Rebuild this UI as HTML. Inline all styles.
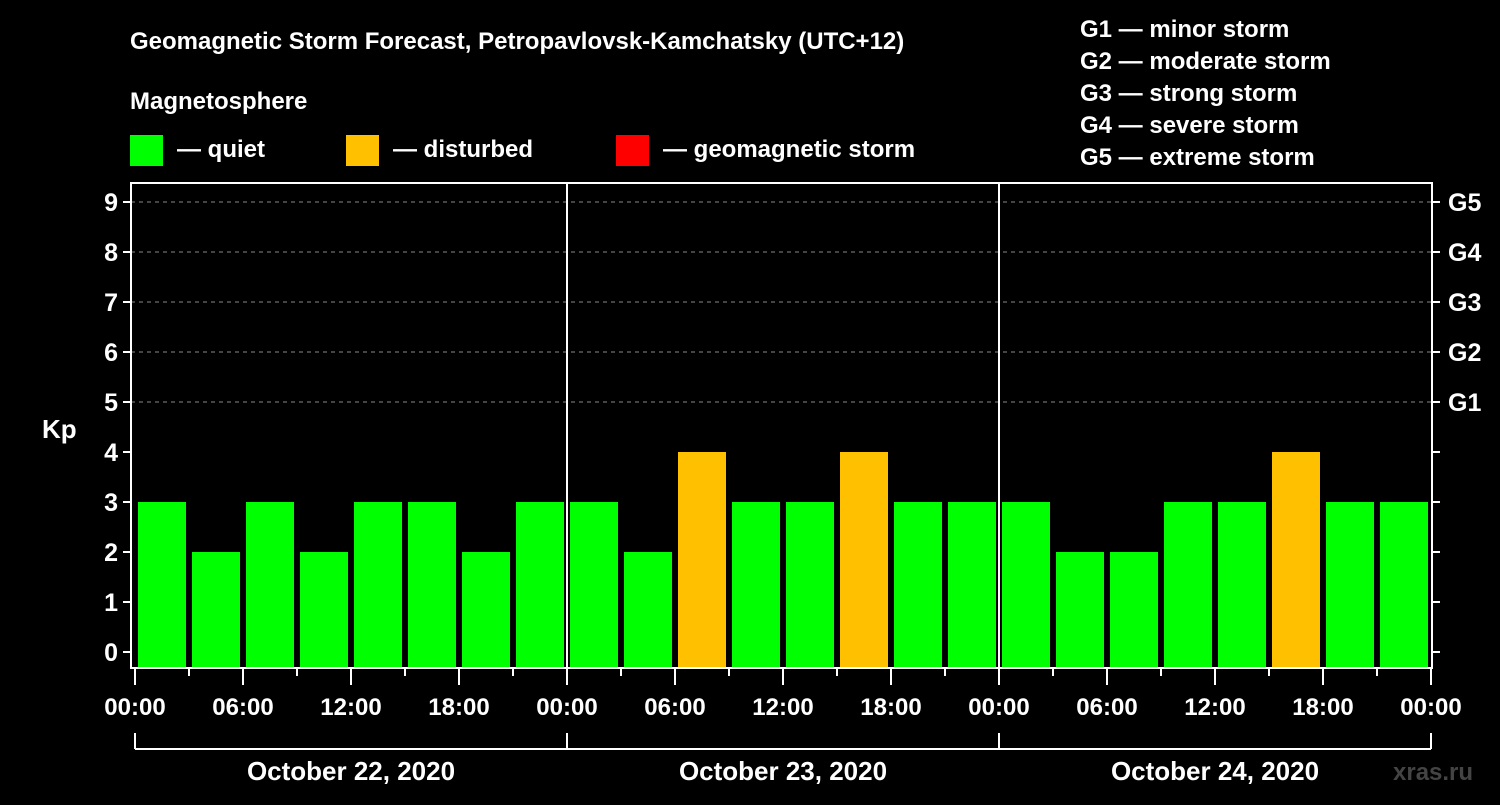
<!DOCTYPE html>
<html><head><meta charset="utf-8"><style>
body{margin:0;background:#000;width:1500px;height:800px;overflow:hidden}
svg text{font-family:"Liberation Sans",Arial,sans-serif;font-weight:bold;fill:#fff}
</style></head><body>
<svg id="c" width="1500" height="800">
<text x="130" y="49" font-size="24">Geomagnetic Storm Forecast, Petropavlovsk-Kamchatsky (UTC+12)</text>
<text x="130" y="109" font-size="24">Magnetosphere</text>
<rect x="130" y="135" width="33" height="31" fill="#00ff00"/>
<text x="177" y="157" font-size="24">— quiet</text>
<rect x="346" y="135" width="33" height="31" fill="#ffc000"/>
<text x="393" y="157" font-size="24">— disturbed</text>
<rect x="616" y="135" width="33" height="31" fill="#ff0000"/>
<text x="663" y="157" font-size="24">— geomagnetic storm</text>
<g font-size="24">
<text x="1080" y="37">G1 — minor storm</text>
<text x="1080" y="69">G2 — moderate storm</text>
<text x="1080" y="101">G3 — strong storm</text>
<text x="1080" y="133">G4 — severe storm</text>
<text x="1080" y="165">G5 — extreme storm</text>
</g>
<text x="42" y="438" font-size="26">Kp</text>
<text x="1393" y="780" font-size="24" style="fill:#444">xras.ru</text>
<g id="plot"></g>
</svg>
<script>
const days = ["October 22, 2020","October 23, 2020","October 24, 2020"];
const kpDay1 = [3,2,3,2,3,3,2,3];
const kpDay2 = [3,2,4,3,3,4,3,3];
const kpDay3 = [3,2,2,3,3,4,3,3];
const yTicks = [0,1,2,3,4,5,6,7,8,9];
const gLabels = ["G1","G2","G3","G4","G5"];
const hourLabels = ["00:00","06:00","12:00","18:00"];
const series = [kpDay1,kpDay2,kpDay3];

const NS="http://www.w3.org/2000/svg";
const g=document.getElementById('plot');
const L=131,R=1432,T=183,B=668,X0=135,DAYW=432;
const y=v=>652-v*50;
const x=h=>X0+h/24*DAYW;
function mk(tag,a){const e=document.createElementNS(NS,tag);for(const k in a)e.setAttribute(k,a[k]);g.appendChild(e);return e;}
// grid
for(const v of [5,6,7,8,9]){
  const e=mk('line',{x1:L,x2:R,y1:y(v),y2:y(v),stroke:'#888','stroke-dasharray':'4,4','stroke-width':1});
  
  
}
// bars
series.forEach((s,d)=>s.forEach((v,i)=>{
  const x1=x(d*24+i*3)+3,x2=x(d*24+(i+1)*3)-3;
  const r=mk('rect',{x:x1,y:y(v),width:x2-x1,height:B-y(v),fill:v>=5?'#ff0000':v>=4?'#ffc000':'#00ff00'});
  
  
}));
// frame
const fr=mk('rect',{x:L,y:T,width:R-L,height:B-T,fill:'none',stroke:'#fff','stroke-width':2});


for(let d=1;d<days.length;d++){
  const e=mk('line',{x1:x(d*24),x2:x(d*24),y1:T,y2:B,stroke:'#fff','stroke-width':2});
  
  
}
// y ticks
yTicks.forEach(v=>{
  mk('line',{x1:L-8,x2:L,y1:y(v),y2:y(v),stroke:'#fff','stroke-width':2});
  mk('line',{x1:R,x2:R+8,y1:y(v),y2:y(v),stroke:'#fff','stroke-width':2});
  const t=mk('text',{x:L-13,y:y(v)+9,'text-anchor':'end','font-size':25});
  t.textContent=v;
  
  
});
gLabels.forEach((s,i)=>{
  const t=mk('text',{x:1448,y:y(5+i)+9,'font-size':25});
  t.textContent=s;
  
  
});
// x ticks
for(let h=0;h<=72;h+=3){
  const major=h%6===0;
  mk('line',{x1:x(h),x2:x(h),y1:B,y2:B+(major?17:8),stroke:'#fff','stroke-width':2});
  if(major){
    const t=mk('text',{x:x(h),y:715,'text-anchor':'middle','font-size':24});
    t.textContent=hourLabels[(h/6)%4];
    
    
  }
}
// day brackets
days.forEach((s,d)=>{
  const a=x(d*24),b=x(d*24+24);
  mk('line',{x1:a,x2:a,y1:733,y2:749,stroke:'#fff','stroke-width':2});
  mk('line',{x1:b,x2:b,y1:733,y2:749,stroke:'#fff','stroke-width':2});
  mk('line',{x1:a,x2:b,y1:749,y2:749,stroke:'#fff','stroke-width':2});
  const t=mk('text',{x:(a+b)/2,y:780,'text-anchor':'middle','font-size':26});
  t.textContent=s;
  
  
});
</script>
</body></html>
